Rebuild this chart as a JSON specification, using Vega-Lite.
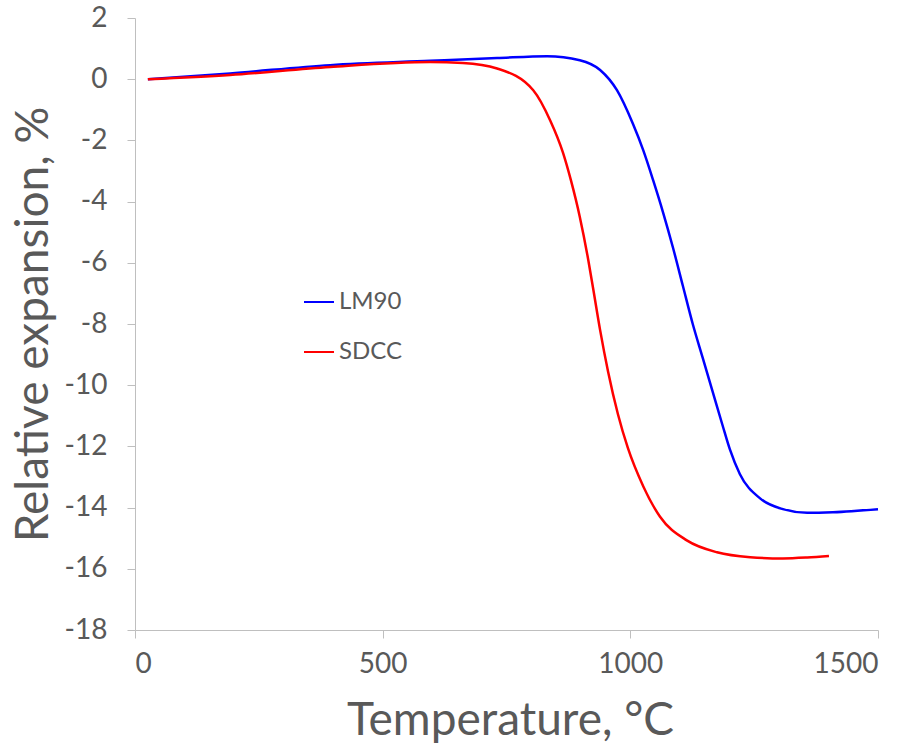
{
  "$schema": "https://vega.github.io/schema/vega-lite/v6.json",
  "width": 743,
  "height": 612,
  "autosize": {"type": "none"},
  "padding": {"left": 135, "top": 18, "right": 35, "bottom": 122},
  "background": "white",
  "config": {
    "view": {"stroke": null},
    "font": "Lato",
    "axis": {"grid": false, "domainColor": "#BFBFBF", "tickColor": "#BFBFBF", "domainWidth": 1, "tickWidth": 1, "tickSize": 8, "labelColor": "#595959", "titleColor": "#595959", "labelFont": "Lato", "titleFont": "Lato", "labelFontSize": 28, "titleFontSize": 46, "titleFontWeight": "normal"}
  },
  "data": {"values": [
    {"T": 26, "v": 0, "s": "LM90"},
    {"T": 192, "v": 0.19, "s": "LM90"},
    {"T": 394, "v": 0.46, "s": "LM90"},
    {"T": 596, "v": 0.6, "s": "LM90"},
    {"T": 731, "v": 0.69, "s": "LM90"},
    {"T": 832, "v": 0.75, "s": "LM90"},
    {"T": 898, "v": 0.62, "s": "LM90"},
    {"T": 939, "v": 0.3, "s": "LM90"},
    {"T": 973, "v": -0.36, "s": "LM90"},
    {"T": 1005, "v": -1.45, "s": "LM90"},
    {"T": 1026, "v": -2.32, "s": "LM90"},
    {"T": 1046, "v": -3.3, "s": "LM90"},
    {"T": 1066, "v": -4.35, "s": "LM90"},
    {"T": 1086, "v": -5.5, "s": "LM90"},
    {"T": 1106, "v": -6.75, "s": "LM90"},
    {"T": 1126, "v": -8.0, "s": "LM90"},
    {"T": 1146, "v": -9.1, "s": "LM90"},
    {"T": 1166, "v": -10.2, "s": "LM90"},
    {"T": 1186, "v": -11.3, "s": "LM90"},
    {"T": 1201, "v": -12.1, "s": "LM90"},
    {"T": 1221, "v": -12.9, "s": "LM90"},
    {"T": 1262, "v": -13.7, "s": "LM90"},
    {"T": 1308, "v": -14.05, "s": "LM90"},
    {"T": 1357, "v": -14.17, "s": "LM90"},
    {"T": 1409, "v": -14.15, "s": "LM90"},
    {"T": 1500, "v": -14.05, "s": "LM90"},
    {"T": 26, "v": 0, "s": "SDCC"},
    {"T": 192, "v": 0.14, "s": "SDCC"},
    {"T": 394, "v": 0.4, "s": "SDCC"},
    {"T": 596, "v": 0.56, "s": "SDCC"},
    {"T": 662, "v": 0.53, "s": "SDCC"},
    {"T": 731, "v": 0.35, "s": "SDCC"},
    {"T": 804, "v": -0.36, "s": "SDCC"},
    {"T": 838, "v": -1.34, "s": "SDCC"},
    {"T": 864, "v": -2.4, "s": "SDCC"},
    {"T": 880, "v": -3.3, "s": "SDCC"},
    {"T": 898, "v": -4.5, "s": "SDCC"},
    {"T": 915, "v": -5.9, "s": "SDCC"},
    {"T": 925, "v": -6.85, "s": "SDCC"},
    {"T": 939, "v": -8.2, "s": "SDCC"},
    {"T": 955, "v": -9.55, "s": "SDCC"},
    {"T": 975, "v": -10.95, "s": "SDCC"},
    {"T": 995, "v": -12.05, "s": "SDCC"},
    {"T": 1026, "v": -13.3, "s": "SDCC"},
    {"T": 1060, "v": -14.3, "s": "SDCC"},
    {"T": 1114, "v": -15.07, "s": "SDCC"},
    {"T": 1175, "v": -15.46, "s": "SDCC"},
    {"T": 1242, "v": -15.62, "s": "SDCC"},
    {"T": 1308, "v": -15.66, "s": "SDCC"},
    {"T": 1357, "v": -15.63, "s": "SDCC"},
    {"T": 1401, "v": -15.58, "s": "SDCC"}
  ]},
  "mark": {"type": "line", "interpolate": "monotone", "strokeWidth": 2.5},
  "encoding": {
    "x": {"field": "T", "type": "quantitative", "scale": {"domain": [0, 1500], "nice": false},
      "axis": {"values": [0, 500, 1000, 1500], "labelExpr": "'' + datum.value", "title": "Temperature, °C", "labelPadding": 12, "titleX": 375, "titleY": 90, "titleBaseline": "middle", "titleAlign": "center"}},
    "y": {"field": "v", "type": "quantitative", "scale": {"domain": [-18, 2], "nice": false, "zero": false},
      "axis": {"values": [-18, -16, -14, -12, -10, -8, -6, -4, -2, 0, 2], "labelExpr": "'' + datum.value", "title": "Relative expansion, %", "labelPadding": 20, "titleX": -102, "titleY": 306, "titleAngle": -90, "titleBaseline": "middle", "titleAlign": "center"}},
    "color": {"field": "s", "type": "nominal", "scale": {"domain": ["LM90", "SDCC"], "range": ["#0000FF", "#FF0000"]},
      "legend": {"title": null, "orient": "none", "legendX": 168, "legendY": 268, "symbolType": "stroke", "symbolSize": 900, "symbolStrokeWidth": 2, "labelFontSize": 24, "labelColor": "#595959", "labelFont": "Lato", "rowPadding": 22, "labelOffset": 4}}
  }
}
